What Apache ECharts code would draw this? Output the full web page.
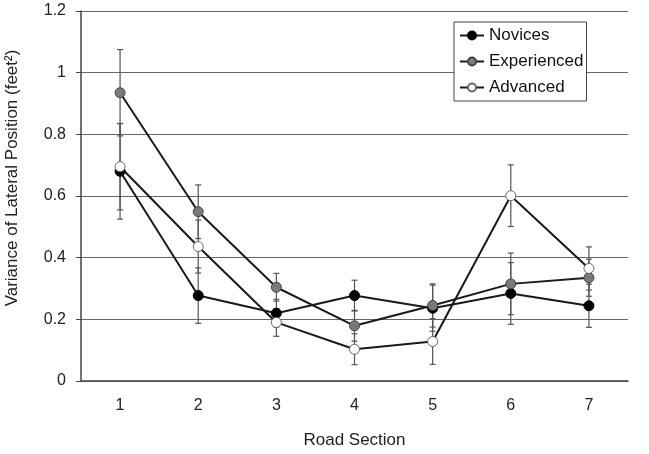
<!DOCTYPE html>
<html>
<head>
<meta charset="utf-8">
<script src="https://cdn.jsdelivr.net/npm/echarts@6/dist/echarts.min.js"></script>
<style>
  html, body { margin: 0; padding: 0; background: #fff; }
  #main { width: 649px; height: 454px; }
</style>
</head>
<body>
<div id="main"></div>
<script>
// 数据
const sections = ['1', '2', '3', '4', '5', '6', '7']
const novices = [0.68, 0.277, 0.22, 0.277, 0.236, 0.284, 0.244]
const novicesErr = [0.155, 0.09, 0.045, 0.05, 0.075, 0.1, 0.07]
const experienced = [0.935, 0.549, 0.304, 0.179, 0.245, 0.315, 0.335]
const experiencedErr = [0.14, 0.087, 0.045, 0.05, 0.07, 0.1, 0.06]
const advanced = [0.695, 0.436, 0.19, 0.103, 0.128, 0.601, 0.365]
const advancedErr = [0.14, 0.086, 0.045, 0.05, 0.074, 0.1, 0.07]

const font = 'Liberation Sans, Arial, sans-serif'

// 误差线
function errorSeries (name, vals, errs) {
  return {
    name: name + ' err',
    type: 'custom',
    z: 1,
    silent: true,
    data: vals.map((v, i) => [i, v - errs[i], v + errs[i]]),
    renderItem: (params, api) => {
      const x = api.value(0)
      const lo = api.coord([x, api.value(1)])
      const hi = api.coord([x, api.value(2)])
      const w = 3
      const style = { stroke: '#555', lineWidth: 1.2 }
      return {
        type: 'group',
        children: [
          { type: 'line', shape: { x1: lo[0], y1: lo[1], x2: hi[0], y2: hi[1] }, style },
          { type: 'line', shape: { x1: lo[0] - w, y1: lo[1], x2: lo[0] + w, y2: lo[1] }, style },
          { type: 'line', shape: { x1: hi[0] - w, y1: hi[1], x2: hi[0] + w, y2: hi[1] }, style }
        ]
      }
    }
  }
}

function lineSeries (name, vals, fill, border) {
  return {
    name: name,
    type: 'line',
    z: 3,
    data: vals,
    symbol: 'circle',
    symbolSize: 10,
    lineStyle: { color: '#1a1a1a', width: 2 },
    itemStyle: { color: fill, borderColor: border, borderWidth: 1 }
  }
}

const chart = echarts.init(document.getElementById('main'))
chart.setOption({
  animation: false,
  backgroundColor: '#fff',
  textStyle: { fontFamily: font },
  grid: { left: 81, right: 21, top: 11, bottom: 73 },
  // y轴标题（略偏上）
  graphic: [{
    type: 'text',
    x: 12,
    y: 178,
    rotation: Math.PI / 2,
    style: {
      text: 'Variance of Lateral Position (feet²)',
      font: '17px ' + font,
      fill: '#222',
      align: 'center',
      verticalAlign: 'middle'
    }
  }],
  legend: {
    orient: 'vertical',
    left: 454,
    top: 22,
    backgroundColor: '#fff',
    borderColor: '#444',
    borderWidth: 1,
    borderRadius: 0,
    padding: [5, 3, 5, 5],
    itemGap: 9,
    itemWidth: 24,
    itemHeight: 10,
    textStyle: { fontFamily: font, fontSize: 17, color: '#111' },
    data: ['Novices', 'Experienced', 'Advanced']
  },
  xAxis: {
    type: 'category',
    data: sections,
    name: 'Road Section',
    nameLocation: 'middle',
    nameGap: 51,
    nameTextStyle: { fontFamily: font, fontSize: 17, color: '#222' },
    axisLine: { lineStyle: { color: '#444', width: 1.5 } },
    axisTick: { length: 5, lineStyle: { color: '#444' } },
    axisLabel: { fontFamily: font, fontSize: 16, color: '#222', margin: 17 }
  },
  yAxis: {
    type: 'value',
    min: 0,
    max: 1.2,
    interval: 0.2,
    axisLine: { show: true, lineStyle: { color: '#444', width: 1.5 } },
    axisTick: { show: true, length: 5, lineStyle: { color: '#444' } },
    axisLabel: { fontFamily: font, fontSize: 16, color: '#222', margin: 15 },
    splitLine: { lineStyle: { color: '#666', width: 1.2 } }
  },
  series: [
    errorSeries('Novices', novices, novicesErr),
    errorSeries('Experienced', experienced, experiencedErr),
    errorSeries('Advanced', advanced, advancedErr),
    lineSeries('Novices', novices, '#000', '#000'),
    lineSeries('Experienced', experienced, '#7a7a7a', '#444'),
    lineSeries('Advanced', advanced, '#fff', '#666')
  ]
})
</script>
</body>
</html>
